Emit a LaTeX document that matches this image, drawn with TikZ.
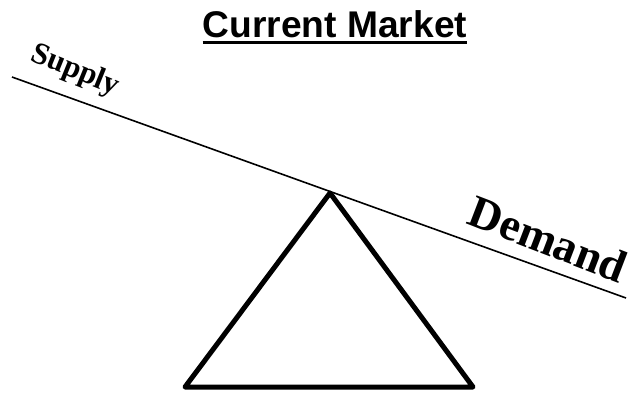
\documentclass[tikz,border=0pt]{standalone}
\usepackage{fontspec}
\setmainfont{Liberation Serif}
\newfontfamily\arialfont{Liberation Sans}
\begin{document}
\begin{tikzpicture}[x=1bp,y=1bp,
  lbl/.style={font=\bfseries, inner sep=0pt},
  beam/.style={line width=1.6bp},
  fulcrum/.style={line width=5bp, line join=round}]
\useasboundingbox (0,0) rectangle (631,394);
\node[inner sep=0pt, font=\arialfont\bfseries\fontsize{37.3}{40}\selectfont] (title) at (335,370) {Current Market};
\draw[line width=2.5bp] ([yshift=-5bp]title.base west) -- ([yshift=-5bp]title.base east);
\coordinate (L) at (12,317);
\coordinate (R) at (626,96);
\draw[beam] (L) -- (R);
\coordinate (A) at (330,201);
\coordinate (B1) at (185,7);
\coordinate (B2) at (473,7);
\draw[fulcrum] (B1) -- (A) -- (B2) -- cycle;
\node[lbl, rotate=-22, font=\bfseries\fontsize{31}{34}\selectfont] (supply) at (75,323) {Supply};
\node[lbl, rotate=-21, font=\bfseries\fontsize{46}{50}\selectfont] (demand) at (548,155) {Demand};
\end{tikzpicture}
\end{document}
